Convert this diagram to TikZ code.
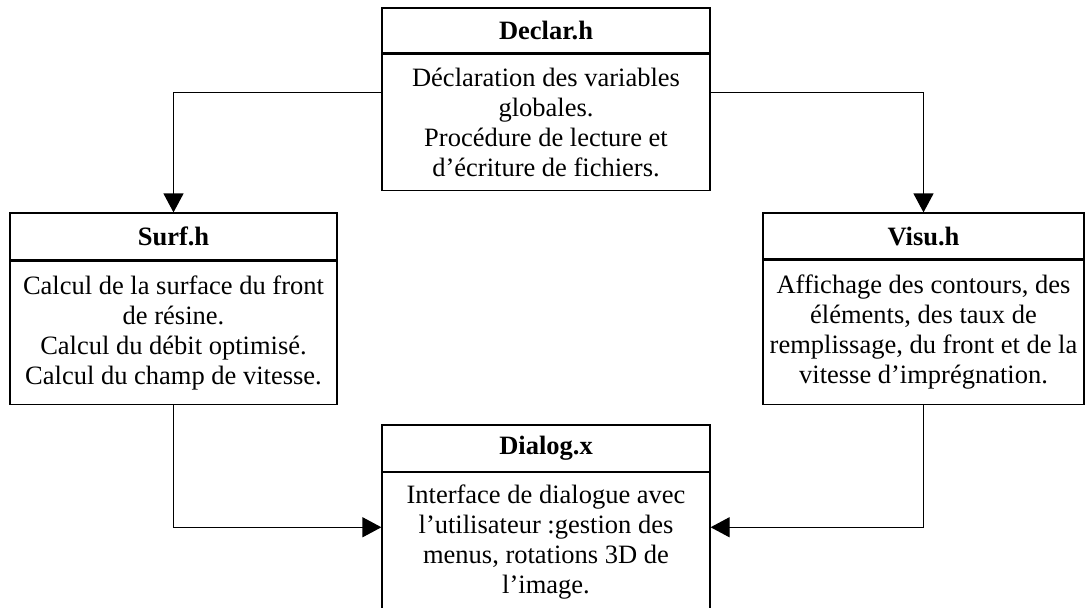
\documentclass[tikz,border=0pt]{standalone}
\usepackage{fontspec}
\setmainfont{Liberation Serif}
\usetikzlibrary{
  arrows.meta,
  positioning
}
\definecolor{linecolor}{RGB}{0, 0, 0}
\definecolor{labelcolor}{RGB}{0, 0, 0}
\tikzset{
blocktext/.style={
  align=center,
  font=\fontsize{13.25}{15}\selectfont,
  text=labelcolor,
  inner sep=0pt
},
titleblock/.style={
  draw=linecolor,
  line width=0.6pt,
  blocktext,
  font=\bfseries\fontsize{13.25}{15}\selectfont
},
bodyblock/.style={
  draw=linecolor,
  line width=0.6pt,
  blocktext
},
arrow/.style={
  -{Triangle[length=9.5pt,width=10pt]},
  line width=0.6pt,
  draw=linecolor
}
}

\begin{document}
\begin{tikzpicture}[x=0.5pt, y=-0.5pt]
  \useasboundingbox (0,0) rectangle (1086,607);

  % Declar.h (top)
  \node[titleblock, minimum width=164pt, minimum height=22.5pt] (declartitle) at (546,30.5) {Declar.h};
  \node[bodyblock, minimum width=164pt, minimum height=68pt, below=0pt of declartitle] (declarbody)
    {Déclaration des variables\\globales.\\Procédure de lecture et\\d'écriture de fichiers.};

  % Surf.h (left)
  \node[titleblock, minimum width=163.5pt, minimum height=23.5pt] (surftitle) at (173.5,236.5) {Surf.h};
  \node[bodyblock, minimum width=163.5pt, minimum height=71.5pt, below=0pt of surftitle] (surfbody)
    {Calcul de la surface du front\\de résine.\\Calcul du débit optimisé.\\Calcul du champ de vitesse.};

  % Visu.h (right)
  \node[titleblock, minimum width=160.5pt, minimum height=23pt] (visutitle) at (923.5,236) {Visu.h};
  \node[bodyblock, minimum width=160.5pt, minimum height=72pt, below=0pt of visutitle] (visubody)
    {Affichage des contours, des\\éléments, des taux de\\remplissage, du front et de la\\vitesse d'imprégnation.};

  % Dialog.x (bottom)
  \node[titleblock, minimum width=164pt, minimum height=23.25pt] (dialogtitle) at (546,448.25) {Dialog.x};
  \node[bodyblock, minimum width=164pt, minimum height=69.75pt, below=0pt of dialogtitle] (dialogbody)
    {Interface de dialogue avec\\l'utilisateur :gestion des\\menus, rotations 3D de\\l'image.};

  % Connectors
  \draw[arrow] ([yshift=15pt]declarbody.west) -| (surftitle.north);
  \draw[arrow] ([yshift=15pt]declarbody.east) -| (visutitle.north);
  \draw[arrow] (surfbody.south) |- ([yshift=7.6pt]dialogbody.west);
  \draw[arrow] (visubody.south) |- ([yshift=7.6pt]dialogbody.east);
\end{tikzpicture}
\end{document}
